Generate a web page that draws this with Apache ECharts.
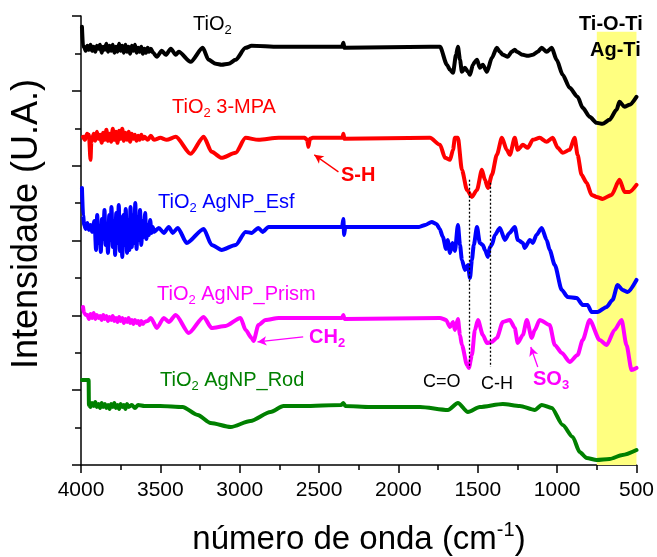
<!DOCTYPE html>
<html><head><meta charset="utf-8">
<script src="https://cdn.jsdelivr.net/npm/echarts@6/dist/echarts.min.js"></script>
<style>html,body{margin:0;padding:0;background:#fff}#c{width:657px;height:557px}</style>
</head><body><div id="c"></div>
<script>
// Wavenumber (cm-1), intensity (arbitrary units, offset stacked)
const tio2 = [[3994,438],[3987,418],[3980,418],[3970,414],[3960,419],[3950,415],[3940,420],[3930,414],[3920,418],[3910,413],[3900,419],[3890,416],[3880,420],[3870,412],[3860,418],[3850,415],[3840,421],[3830,413],[3820,419],[3810,414],[3800,420],[3790,412],[3780,418],[3770,413],[3760,421],[3750,414],[3740,419],[3730,412],[3720,420],[3710,413],[3700,418],[3690,411],[3680,419],[3670,414],[3660,420],[3650,412],[3640,417],[3630,413],[3620,418],[3610,411],[3600,416],[3590,412],[3580,417],[3570,413],[3560,416],[3545,412],[3522,408],[3491,414],[3466,410],[3434,416],[3403,410],[3384,413],[3309,403],[3233,417],[3196,405],[3150,401],[3114,400],[3070,401],[3026,405],[2963,417],[2925,419],[2755,418],[2355,418],[2347,422],[2340,417],[1800,418],[1738,418],[1694,400],[1675,395],[1656,392],[1637,410],[1625,418],[1612,405],[1600,393],[1581,397],[1562,393],[1549,390],[1531,400],[1518,403],[1505,405],[1487,397],[1468,400],[1442,393],[1411,407],[1380,417],[1361,413],[1342,410],[1311,408],[1286,413],[1267,415],[1254,413],[1216,410],[1185,409],[1153,410],[1122,413],[1097,417],[1066,413],[1034,417],[1003,405],[965,390],[921,377],[871,368],[839,357],[795,348],[751,342],[714,341],[670,345],[626,355],[607,363],[575,358],[544,360],[500,368]];
const tio2Mpa = [[3987,328],[3975,325],[3962,331],[3950,330],[3940,305],[3935,323],[3920,331],[3910,324],[3900,333],[3890,326],[3880,330],[3870,322],[3860,332],[3850,325],[3840,335],[3830,324],[3820,331],[3810,323],[3800,336],[3790,325],[3780,333],[3770,322],[3760,334],[3750,326],[3740,336],[3730,324],[3720,332],[3710,325],[3700,333],[3690,323],[3680,331],[3670,326],[3660,330],[3650,324],[3640,329],[3630,325],[3620,330],[3610,326],[3600,328],[3580,325],[3560,329],[3540,325],[3500,327],[3460,325],[3403,328],[3309,311],[3227,328],[3177,313],[3114,307],[3026,312],[2963,327],[2882,325],[2755,327],[2590,327],[2575,325],[2567,318],[2558,326],[2540,327],[2352,327],[2347,331],[2340,326],[1801,327],[1738,320],[1706,307],[1675,305],[1656,315],[1644,327],[1625,327],[1600,295],[1568,275],[1537,268],[1505,275],[1474,295],[1455,285],[1436,277],[1411,290],[1380,310],[1348,327],[1317,315],[1298,310],[1267,327],[1248,315],[1216,320],[1185,317],[1153,325],[1110,327],[1066,323],[1028,327],[996,317],[965,312],[921,315],[890,327],[871,310],[846,290],[814,282],[783,270],[751,268],[714,266],[657,270],[607,285],[575,273],[544,273],[500,280]];
const tio2Esf = [[3994,277],[3987,250],[3980,240],[3970,236],[3960,242],[3950,235],[3940,240],[3930,233],[3915,244],[3905,215],[3898,250],[3890,222],[3882,238],[3875,213],[3868,246],[3860,226],[3852,255],[3845,220],[3838,240],[3830,212],[3822,250],[3815,225],[3808,258],[3800,218],[3792,244],[3785,210],[3778,252],[3770,222],[3762,260],[3755,214],[3748,248],[3740,208],[3732,250],[3725,220],[3718,256],[3710,212],[3702,245],[3695,215],[3688,258],[3680,218],[3672,250],[3665,222],[3658,262],[3650,216],[3642,248],[3635,225],[3628,255],[3620,220],[3612,244],[3604,228],[3596,252],[3588,226],[3580,240],[3572,230],[3564,245],[3556,232],[3548,238],[3540,233],[3510,237],[3478,232],[3447,238],[3422,232],[3390,237],[3334,222],[3227,236],[3177,220],[3114,215],[3026,220],[2963,233],[2925,232],[2882,237],[2856,233],[2818,238],[2355,238],[2347,246],[2342,230],[2335,238],[1870,238],[1830,240],[1790,243],[1760,241],[1740,236],[1720,228],[1700,216],[1690,225],[1675,212],[1660,222],[1644,214],[1625,240],[1612,220],[1600,205],[1581,195],[1562,200],[1549,187],[1537,205],[1525,220],[1505,238],[1487,222],[1468,220],[1455,215],[1436,208],[1424,218],[1411,220],[1392,230],[1361,237],[1329,225],[1300,232],[1267,238],[1248,225],[1216,222],[1204,217],[1172,225],[1153,222],[1130,230],[1097,237],[1066,225],[1047,215],[1015,200],[971,175],[934,168],[877,167],[839,160],[808,160],[783,153],[745,153],[688,158],[651,165],[619,180],[588,175],[556,173],[500,185]];
const tio2Prism = [[3987,158],[3981,152],[3969,150],[3960,150],[3950,146],[3940,151],[3930,147],[3920,152],[3910,146],[3900,150],[3890,147],[3880,149],[3870,145],[3860,150],[3850,146],[3840,149],[3830,144],[3820,148],[3810,145],[3800,149],[3790,144],[3780,147],[3770,143],[3760,148],[3750,144],[3740,147],[3730,142],[3720,146],[3710,143],[3700,147],[3690,142],[3680,145],[3670,141],[3660,145],[3650,142],[3640,144],[3630,140],[3620,144],[3610,141],[3600,143],[3580,144],[3560,147],[3522,137],[3478,147],[3447,143],[3403,150],[3321,132],[3227,148],[3177,137],[3089,139],[2995,147],[2963,135],[2925,127],[2913,124],[2882,140],[2837,145],[2755,147],[2355,147],[2347,150],[2340,146],[1738,147],[1700,145],[1675,138],[1656,143],[1644,135],[1625,146],[1612,130],[1600,120],[1568,100],[1556,97],[1537,110],[1518,135],[1499,145],[1468,130],[1442,122],[1411,123],[1380,127],[1342,143],[1298,145],[1267,137],[1248,122],[1216,130],[1191,145],[1160,127],[1141,135],[1110,145],[1047,140],[1015,120],[971,112],[921,103],[871,110],[839,125],[795,145],[732,125],[688,120],[638,135],[594,145],[563,120],[531,95],[500,97]];
const tio2Rod = [[3994,85],[3952,85],[3950,60],[3940,58],[3930,62],[3920,59],[3910,63],[3900,58],[3890,61],[3880,57],[3870,62],[3860,58],[3850,61],[3840,57],[3830,60],[3820,56],[3810,61],[3800,58],[3790,62],[3780,57],[3770,60],[3760,56],[3750,61],[3740,58],[3730,60],[3720,56],[3710,61],[3700,58],[3680,60],[3660,57],[3640,60],[3600,59],[3500,59],[3360,58],[3265,50],[3183,42],[3057,38],[2932,44],[2806,53],[2724,59],[2598,59],[2360,60],[2347,62],[2335,59],[2178,58],[1864,58],[1688,55],[1625,62],[1562,53],[1487,58],[1342,61],[1235,59],[1141,55],[1097,60],[1034,57],[965,40],[902,28],[858,13],[814,7],[751,5],[670,6],[588,10],[500,15]];

const bandRange = [750, 500];     // Ti-O-Ti / Ag-Ti band
const bandTop = 433;
const guideCO = 1556, guideCH = 1424;

const F = 'Liberation Sans, Arial, sans-serif';
const chart = echarts.init(document.getElementById('c'));

function lbl(x, y, text, color, opts) {
  opts = opts || {};
  const fw = opts.bold ? 'bold' : 'normal';
  const fs = opts.size || 20;
  return {
    type: 'text', x: x, y: y, z: 50,
    style: {
      text: text, verticalAlign: 'top', textVerticalAlign: 'top',
      rich: {
        m: {fontSize: fs, fontFamily: F, fontWeight: fw, fill: color, color: color, lineHeight: 26},
        s: {fontSize: 13, fontFamily: F, fontWeight: fw, fill: color, color: color, lineHeight: 13, verticalAlign: 'bottom'}
      }
    }
  };
}

const lineS = (name, data, color) => ({
  name: name, type: 'line', data: data, showSymbol: false, symbol: 'none', z: 3,
  smooth: 0.25, smoothMonotone: 'x',
  lineStyle: {color: color, width: 4, join: 'round', cap: 'round'}, itemStyle: {color: color}, silent: true, animation: false
});

const arrow = (from, to, color) => [{coord: from, lineStyle: {color: color, width: 1.3, type: 'solid'}}, {coord: to}];

const option = {
  animation: false,
  grid: {left: 81, right: 20, top: 16, bottom: 92},
  xAxis: {
    type: 'value', inverse: true, min: 500, max: 4000, interval: 500,
    axisLine: {lineStyle: {color: '#000', width: 1.5}},
    axisTick: {show: true, length: 8, lineStyle: {color: '#000', width: 1.5}},
    minorTick: {show: true, splitNumber: 2, length: 5, lineStyle: {color: '#000', width: 1.5}},
    axisLabel: {color: '#000', fontSize: 21, fontFamily: F, margin: 15, formatter: v => String(v)},
    splitLine: {show: false}
  },
  yAxis: {
    type: 'value', min: 0, max: 448.8, interval: 74.8,
    axisLine: {show: true, lineStyle: {color: '#000', width: 1.5}},
    axisTick: {show: true, length: 9, lineStyle: {color: '#000', width: 1.5}},
    minorTick: {show: true, splitNumber: 2, length: 6, lineStyle: {color: '#000', width: 1.5}},
    axisLabel: {show: false},
    splitLine: {show: false}
  },
  series: [
    {type: 'line', data: [], z: 1, silent: true,
      markArea: {silent: true, itemStyle: {color: '#ffff80'},
        data: [[{xAxis: bandRange[0], yAxis: bandTop}, {xAxis: bandRange[1], yAxis: 0}]]}},
    lineS('TiO2 AgNP_Rod', tio2Rod, '#008000'),
    lineS('TiO2 AgNP_Prism', tio2Prism, '#ff00ff'),
    lineS('TiO2 AgNP_Esf', tio2Esf, '#0000ff'),
    lineS('TiO2 3-MPA', tio2Mpa, '#ff0000'),
    lineS('TiO2', tio2, '#000000'),
    {type: 'line', data: [], z: 4, silent: true,
      markLine: {silent: true, symbol: ['none', 'none'], label: {show: false},
        lineStyle: {color: '#000', width: 1.3, type: [2, 2]},
        data: [
          [{coord: [guideCO, 285]}, {coord: [guideCO, 97]}],
          [{coord: [guideCH, 282]}, {coord: [guideCH, 98]}]
        ]}},
    {type: 'line', data: [], z: 4, silent: true,
      markLine: {silent: true, symbol: ['none', 'arrow'], symbolSize: [7, 9], label: {show: false},
        data: [
          arrow([2378, 293], [2530, 310], '#ff0000'),
          arrow([2600, 128], [2888, 123], '#ff00ff'),
          arrow([1122, 98], [1166, 118], '#ff00ff')
        ]}}
  ],
  graphic: [
    lbl(193, 11, '{m|TiO}{s|2}', '#000'),
    lbl(172, 94, '{m|TiO}{s|2}{m| 3-MPA}', '#ff0000'),
    lbl(158, 189, '{m|TiO}{s|2}{m| AgNP_Esf}', '#0000ff'),
    lbl(157, 281, '{m|TiO}{s|2}{m| AgNP_Prism}', '#ff00ff'),
    lbl(160, 367, '{m|TiO}{s|2}{m| AgNP_Rod}', '#008000'),
    lbl(341, 162, '{m|S-H}', '#ff0000', {bold: true}),
    lbl(309, 324, '{m|CH}{s|2}', '#ff00ff', {bold: true}),
    lbl(533, 366, '{m|SO}{s|3}', '#ff00ff', {bold: true}),
    lbl(423, 369, '{m|C=O}', '#000', {size: 18}),
    lbl(481, 371, '{m|C-H}', '#000', {size: 18}),
    lbl(579, 11, '{m|Ti-O-Ti}', '#000', {bold: true}),
    lbl(590, 37, '{m|Ag-Ti}', '#000', {bold: true}),
    {type: 'text', x: 27, y: 224, rotation: Math.PI / 2, z: 50,
      style: {text: 'Intensidade (U.A.)', fontSize: 36, fontFamily: F, fill: '#000',
        align: 'center', textAlign: 'center', verticalAlign: 'middle', textVerticalAlign: 'middle'}},
    {type: 'text', x: 359, y: 520, z: 50,
      style: {text: '{a|número de onda (cm}{b|-1}{a|)}', align: 'center', textAlign: 'center',
        verticalAlign: 'top', textVerticalAlign: 'top',
        rich: {a: {fontSize: 33, fontFamily: F, fill: '#000', color: '#000', lineHeight: 40},
               b: {fontSize: 20, fontFamily: F, fill: '#000', color: '#000', lineHeight: 20, verticalAlign: 'top'}}}}
  ]
};
chart.setOption(option);
</script>
</body></html>
